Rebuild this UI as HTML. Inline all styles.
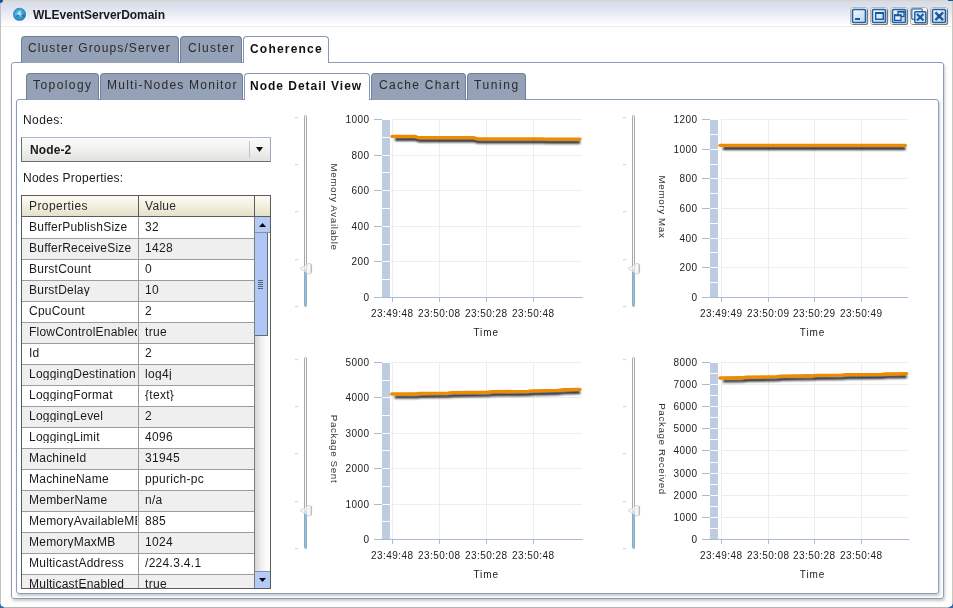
<!DOCTYPE html><html><head><meta charset="utf-8"><style>
*{margin:0;padding:0;box-sizing:border-box}
html,body{width:953px;height:608px;overflow:hidden;background:#fff;font-family:"Liberation Sans", sans-serif;color:#222}
.a{position:absolute}
.t{position:absolute;white-space:nowrap;line-height:1;will-change:transform}
.tab{position:absolute;height:27px;border:1px solid #6f7e9a;border-bottom:none;border-radius:4px 4px 0 0;background:#95a1b6}
.tab.sel{background:#fff;border-color:#8797b5}
.tl{position:absolute;white-space:nowrap;font-size:12px;letter-spacing:1px;color:#2a2a2a;line-height:12px;will-change:transform}
.tl.b{font-weight:bold;letter-spacing:0.85px;color:#111}
.cell{position:absolute;white-space:nowrap;font-size:12px;line-height:12px;color:#1a1a1a;overflow:hidden;will-change:transform}
</style></head><body>
<div class="a" style="left:0;top:0;width:953px;height:26px;background:linear-gradient(#d3d9e8 0px,#dfe3ef 8px,#f4f6fa 20px,#ffffff 25px)"></div>
<div class="a" style="left:0;top:0;width:953px;height:1px;background:#d9d6c6"></div>
<div class="a" style="left:0;top:26px;width:953px;height:1px;background:#ececea"></div>
<div class="a" style="left:0;top:0;width:1px;height:608px;background:#c2c2c2"></div>
<div class="a" style="left:952px;top:0;width:1px;height:608px;background:#c9c9c2"></div>
<div class="a" style="left:0;top:607px;width:953px;height:1px;background:#b4b4b4"></div>
<div class="a" style="left:0;top:0;width:3px;height:3px;background:#1b4f91;border-bottom-right-radius:3px"></div>
<div class="a" style="left:948px;top:0;width:5px;height:1px;background:#1d56a0"></div>
<div class="a" style="left:0;top:603px;width:4px;height:5px;background:radial-gradient(circle at 100% 0%, transparent 3.5px, #2a6cb0 4px)"></div>
<div class="a" style="left:949px;top:603px;width:4px;height:5px;background:radial-gradient(circle at 0% 0%, transparent 3.5px, #2a6cb0 4px)"></div>
<svg class="a" style="left:12px;top:7px" width="15" height="15" viewBox="0 0 15 15">
<defs><radialGradient id="gl" cx="0.45" cy="0.42" r="0.62"><stop offset="0" stop-color="#7cc8ec"/><stop offset="0.55" stop-color="#3d9fd3"/><stop offset="1" stop-color="#1d6fae"/></radialGradient></defs>
<circle cx="7.5" cy="7.3" r="6.5" fill="url(#gl)"/>
<path d="M4.3 9.6 Q4.6 7.6 6.2 7.4 Q7 8.6 6.4 10.3 Q5.2 10.6 4.3 9.6Z" fill="#145f8f" opacity="0.8"/>
<path d="M10.2 7.6 Q11.8 7.2 12.6 8.4 Q12.2 9.9 11 9.6 Q10.3 8.8 10.2 7.6Z" fill="#145f8f" opacity="0.7"/>
<path d="M5.2 7.2 L8.2 3.6 L8.8 4.2 L7.6 6.4 L9.6 6.6 L8.8 8.2 L7.2 7.6Z" fill="#e8f8ff" opacity="0.85"/>
<path d="M2 6 Q3.5 2.2 7 1.2" stroke="#1a5f95" stroke-width="0.8" fill="none" opacity="0.5"/>
</svg>
<div class="t" style="left:33px;top:9px;font-size:12px;font-weight:bold;letter-spacing:-0.04px;color:#1a1a1a">WLEventServerDomain</div>
<svg class="a" style="left:850px;top:7px" width="19" height="19" viewBox="0 0 19 19"><defs><linearGradient id="bfmin" x1="0" y1="0" x2="1" y2="1"><stop offset="0" stop-color="#f4f9ff"/><stop offset="1" stop-color="#b9d4ef"/></linearGradient></defs><rect x="0.5" y="0.5" width="17" height="17" rx="2" fill="#f4f3ee" stroke="#b9b7b0" stroke-width="1"/><path d="M17.5 2.5 V15.5 Q17.5 17.5 15.5 17.5 H2.5" fill="none" stroke="#7d786e" stroke-width="1.2"/><rect x="2.5" y="2.5" width="13" height="13" rx="1" fill="url(#bfmin)" stroke="#1f62ab" stroke-width="1.6"/><rect x="5" y="11" width="5" height="2" fill="#1c569a"/></svg>
<svg class="a" style="left:870px;top:7px" width="19" height="19" viewBox="0 0 19 19"><defs><linearGradient id="bfmax" x1="0" y1="0" x2="1" y2="1"><stop offset="0" stop-color="#f4f9ff"/><stop offset="1" stop-color="#b9d4ef"/></linearGradient></defs><rect x="0.5" y="0.5" width="17" height="17" rx="2" fill="#f4f3ee" stroke="#b9b7b0" stroke-width="1"/><path d="M17.5 2.5 V15.5 Q17.5 17.5 15.5 17.5 H2.5" fill="none" stroke="#7d786e" stroke-width="1.2"/><rect x="2.5" y="2.5" width="13" height="13" rx="1" fill="url(#bfmax)" stroke="#1f62ab" stroke-width="1.6"/><rect x="5.7" y="5.7" width="7.6" height="6.6" fill="none" stroke="#1c569a" stroke-width="1.4"/><rect x="5" y="5" width="9" height="2" fill="#1c569a"/></svg>
<svg class="a" style="left:890px;top:7px" width="19" height="19" viewBox="0 0 19 19"><defs><linearGradient id="bfres" x1="0" y1="0" x2="1" y2="1"><stop offset="0" stop-color="#f4f9ff"/><stop offset="1" stop-color="#b9d4ef"/></linearGradient></defs><rect x="0.5" y="0.5" width="17" height="17" rx="2" fill="#f4f3ee" stroke="#b9b7b0" stroke-width="1"/><path d="M17.5 2.5 V15.5 Q17.5 17.5 15.5 17.5 H2.5" fill="none" stroke="#7d786e" stroke-width="1.2"/><rect x="2.5" y="2.5" width="13" height="13" rx="1" fill="url(#bfres)" stroke="#1f62ab" stroke-width="1.6"/><rect x="8" y="4.5" width="6" height="5" fill="none" stroke="#1c569a" stroke-width="1.3"/><rect x="8" y="4" width="6.5" height="1.6" fill="#1c569a"/><rect x="4.6" y="8" width="6.4" height="5.4" fill="#e4f0fb" stroke="#1c569a" stroke-width="1.3"/><rect x="4" y="7.5" width="7.5" height="1.8" fill="#1c569a"/></svg>
<svg class="a" style="left:910px;top:7px" width="19" height="19" viewBox="0 0 19 19"><rect x="0.5" y="0.5" width="17" height="17" rx="2" fill="#f4f3ee" stroke="#b9b7b0" stroke-width="1"/><path d="M17.5 2.5 V15.5 Q17.5 17.5 15.5 17.5 H2.5" fill="none" stroke="#7d786e" stroke-width="1.2"/><rect x="1.8" y="1.8" width="10.5" height="10.5" rx="1" fill="#e6f0fb" stroke="#2a6db3" stroke-width="1.2"/><rect x="4.8" y="4.8" width="11" height="11" rx="1" fill="#d5e6f7" stroke="#1f62ab" stroke-width="1.5"/><path d="M7.8 7.8 L12.7 12.7 M12.7 7.8 L7.8 12.7" stroke="#1d5c9f" stroke-width="2.3" stroke-linecap="square"/></svg>
<svg class="a" style="left:930px;top:7px" width="19" height="19" viewBox="0 0 19 19"><defs><linearGradient id="bfclose" x1="0" y1="0" x2="1" y2="1"><stop offset="0" stop-color="#f4f9ff"/><stop offset="1" stop-color="#b9d4ef"/></linearGradient></defs><rect x="0.5" y="0.5" width="17" height="17" rx="2" fill="#f4f3ee" stroke="#b9b7b0" stroke-width="1"/><path d="M17.5 2.5 V15.5 Q17.5 17.5 15.5 17.5 H2.5" fill="none" stroke="#7d786e" stroke-width="1.2"/><rect x="2.5" y="2.5" width="13" height="13" rx="1" fill="url(#bfclose)" stroke="#1f62ab" stroke-width="1.6"/><path d="M6.2 6.2 L12.3 12.3 M12.3 6.2 L6.2 12.3" stroke="#1d5c9f" stroke-width="2.4" stroke-linecap="square"/><circle cx="9.25" cy="9.25" r="1.6" fill="#174f8c"/></svg>
<div class="a" style="left:11px;top:62px;width:933px;height:537px;border:1px solid #8c9cbb;border-radius:3px;box-shadow:1px 2px 3px rgba(0,0,0,0.22)"></div>
<div class="tab" style="left:21px;top:36px;width:158px;height:27px"></div>
<div class="tl" style="left:28.2px;top:42px;letter-spacing:1.12px">Cluster Groups/Server</div>
<div class="tab" style="left:180px;top:36px;width:62px;height:27px"></div>
<div class="tl" style="left:187.5px;top:42px;letter-spacing:1.33px">Cluster</div>
<div class="tab sel" style="left:243px;top:36px;width:86px;height:27px"></div>
<div class="tl b" style="left:249.5px;top:43px;letter-spacing:1.2px">Coherence</div>
<div class="a" style="left:16px;top:99px;width:923px;height:495px;border:1px solid #8c9cbb;border-radius:3px;box-shadow:1px 2px 3px rgba(0,0,0,0.22)"></div>
<div class="tab" style="left:26px;top:73px;width:73px;height:27px"></div>
<div class="tl" style="left:33px;top:79px;letter-spacing:1.43px">Topology</div>
<div class="tab" style="left:100px;top:73px;width:143px;height:27px"></div>
<div class="tl" style="left:106.8px;top:79px;letter-spacing:1.23px">Multi-Nodes Monitor</div>
<div class="tab sel" style="left:244px;top:73px;width:126px;height:27px"></div>
<div class="tl b" style="left:249.6px;top:80px;letter-spacing:0.98px">Node Detail View</div>
<div class="tab" style="left:371px;top:73px;width:95px;height:27px"></div>
<div class="tl" style="left:378.5px;top:79px;letter-spacing:1.3px">Cache Chart</div>
<div class="tab" style="left:467px;top:73px;width:59px;height:27px"></div>
<div class="tl" style="left:474px;top:79px;letter-spacing:1.6px">Tuning</div>
<div class="cell" style="left:23px;top:114px;letter-spacing:0.4px">Nodes:</div>
<div class="a" style="left:21px;top:137px;width:250px;height:25px;border:1px solid #6d6d6d;border-top-color:#a9b9d3;border-right-color:#9aa6bb;background:linear-gradient(#fbfbfb,#f2f2f0 45%,#e2e2df)"></div>
<div class="a" style="left:249px;top:141px;width:1px;height:17px;background:#b8c4d8"></div>
<svg class="a" style="left:256px;top:147px" width="7" height="5"><path d="M0 0 H7 L3.5 5Z" fill="#111"/></svg>
<div class="cell" style="left:29.5px;top:144px;font-weight:bold;color:#1a1a1a;letter-spacing:0.1px">Node-2</div>
<div class="cell" style="left:23px;top:172px;letter-spacing:0.26px">Nodes Properties:</div>
<div class="a" style="left:21px;top:195px;width:250px;height:394px;border:1px solid #5c5c5c;background:#fff"></div>
<div class="a" style="left:22px;top:196px;width:248px;height:20px;background:linear-gradient(#fcfbf4,#f4f2e4 40%,#e4e1ca)"></div>
<div class="a" style="left:22px;top:216px;width:248px;height:1px;background:#5c5c5c"></div>
<div class="a" style="left:138px;top:196px;width:1px;height:20px;background:#5c5c5c"></div>
<div class="a" style="left:254px;top:196px;width:1px;height:20px;background:#5c5c5c"></div>
<div class="cell" style="left:28.6px;top:200px;letter-spacing:0.43px;color:#2a2a2a">Properties</div>
<div class="cell" style="left:145px;top:200px;letter-spacing:0.3px;color:#2a2a2a">Value</div>
<div class="a" style="left:22px;top:217px;width:232px;height:371px;overflow:hidden">
<div class="a" style="left:0;top:21px;width:232px;height:1px;background:#9b9d9b"></div>
<div class="cell" style="left:6.6px;top:4px;width:108px;letter-spacing:0.23px">BufferPublishSize</div>
<div class="cell" style="left:123px;top:4px;width:108px;letter-spacing:0.3px">32</div>
<div class="a" style="left:0;top:22px;width:232px;height:20px;background:#efefef"></div>
<div class="a" style="left:0;top:42px;width:232px;height:1px;background:#9b9d9b"></div>
<div class="cell" style="left:6.6px;top:25px;width:108px;letter-spacing:0.23px">BufferReceiveSize</div>
<div class="cell" style="left:123px;top:25px;width:108px;letter-spacing:0.3px">1428</div>
<div class="a" style="left:0;top:63px;width:232px;height:1px;background:#9b9d9b"></div>
<div class="cell" style="left:6.6px;top:46px;width:108px;letter-spacing:0.23px">BurstCount</div>
<div class="cell" style="left:123px;top:46px;width:108px;letter-spacing:0.3px">0</div>
<div class="a" style="left:0;top:64px;width:232px;height:20px;background:#efefef"></div>
<div class="a" style="left:0;top:84px;width:232px;height:1px;background:#9b9d9b"></div>
<div class="cell" style="left:6.6px;top:67px;width:108px;letter-spacing:0.23px">BurstDelay</div>
<div class="cell" style="left:123px;top:67px;width:108px;letter-spacing:0.3px">10</div>
<div class="a" style="left:0;top:105px;width:232px;height:1px;background:#9b9d9b"></div>
<div class="cell" style="left:6.6px;top:88px;width:108px;letter-spacing:0.23px">CpuCount</div>
<div class="cell" style="left:123px;top:88px;width:108px;letter-spacing:0.3px">2</div>
<div class="a" style="left:0;top:106px;width:232px;height:20px;background:#efefef"></div>
<div class="a" style="left:0;top:126px;width:232px;height:1px;background:#9b9d9b"></div>
<div class="cell" style="left:6.6px;top:109px;width:108px;letter-spacing:0.23px">FlowControlEnabled</div>
<div class="cell" style="left:123px;top:109px;width:108px;letter-spacing:0.3px">true</div>
<div class="a" style="left:0;top:147px;width:232px;height:1px;background:#9b9d9b"></div>
<div class="cell" style="left:6.6px;top:130px;width:108px;letter-spacing:0.23px">Id</div>
<div class="cell" style="left:123px;top:130px;width:108px;letter-spacing:0.3px">2</div>
<div class="a" style="left:0;top:148px;width:232px;height:20px;background:#efefef"></div>
<div class="a" style="left:0;top:168px;width:232px;height:1px;background:#9b9d9b"></div>
<div class="cell" style="left:6.6px;top:151px;width:108px;letter-spacing:0.23px">LoggingDestination</div>
<div class="cell" style="left:123px;top:151px;width:108px;letter-spacing:0.3px">log4j</div>
<div class="a" style="left:0;top:189px;width:232px;height:1px;background:#9b9d9b"></div>
<div class="cell" style="left:6.6px;top:172px;width:108px;letter-spacing:0.23px">LoggingFormat</div>
<div class="cell" style="left:123px;top:172px;width:108px;letter-spacing:0.3px">{text}</div>
<div class="a" style="left:0;top:190px;width:232px;height:20px;background:#efefef"></div>
<div class="a" style="left:0;top:210px;width:232px;height:1px;background:#9b9d9b"></div>
<div class="cell" style="left:6.6px;top:193px;width:108px;letter-spacing:0.23px">LoggingLevel</div>
<div class="cell" style="left:123px;top:193px;width:108px;letter-spacing:0.3px">2</div>
<div class="a" style="left:0;top:231px;width:232px;height:1px;background:#9b9d9b"></div>
<div class="cell" style="left:6.6px;top:214px;width:108px;letter-spacing:0.23px">LoggingLimit</div>
<div class="cell" style="left:123px;top:214px;width:108px;letter-spacing:0.3px">4096</div>
<div class="a" style="left:0;top:232px;width:232px;height:20px;background:#efefef"></div>
<div class="a" style="left:0;top:252px;width:232px;height:1px;background:#9b9d9b"></div>
<div class="cell" style="left:6.6px;top:235px;width:108px;letter-spacing:0.23px">MachineId</div>
<div class="cell" style="left:123px;top:235px;width:108px;letter-spacing:0.3px">31945</div>
<div class="a" style="left:0;top:273px;width:232px;height:1px;background:#9b9d9b"></div>
<div class="cell" style="left:6.6px;top:256px;width:108px;letter-spacing:0.23px">MachineName</div>
<div class="cell" style="left:123px;top:256px;width:108px;letter-spacing:0.3px">ppurich-pc</div>
<div class="a" style="left:0;top:274px;width:232px;height:20px;background:#efefef"></div>
<div class="a" style="left:0;top:294px;width:232px;height:1px;background:#9b9d9b"></div>
<div class="cell" style="left:6.6px;top:277px;width:108px;letter-spacing:0.23px">MemberName</div>
<div class="cell" style="left:123px;top:277px;width:108px;letter-spacing:0.3px">n/a</div>
<div class="a" style="left:0;top:315px;width:232px;height:1px;background:#9b9d9b"></div>
<div class="cell" style="left:6.6px;top:298px;width:108px;letter-spacing:0.23px">MemoryAvailableMB</div>
<div class="cell" style="left:123px;top:298px;width:108px;letter-spacing:0.3px">885</div>
<div class="a" style="left:0;top:316px;width:232px;height:20px;background:#efefef"></div>
<div class="a" style="left:0;top:336px;width:232px;height:1px;background:#9b9d9b"></div>
<div class="cell" style="left:6.6px;top:319px;width:108px;letter-spacing:0.23px">MemoryMaxMB</div>
<div class="cell" style="left:123px;top:319px;width:108px;letter-spacing:0.3px">1024</div>
<div class="a" style="left:0;top:357px;width:232px;height:1px;background:#9b9d9b"></div>
<div class="cell" style="left:6.6px;top:340px;width:108px;letter-spacing:0.23px">MulticastAddress</div>
<div class="cell" style="left:123px;top:340px;width:108px;letter-spacing:0.3px">/224.3.4.1</div>
<div class="a" style="left:0;top:358px;width:232px;height:20px;background:#efefef"></div>
<div class="a" style="left:0;top:378px;width:232px;height:1px;background:#9b9d9b"></div>
<div class="cell" style="left:6.6px;top:361px;width:108px;letter-spacing:0.23px">MulticastEnabled</div>
<div class="cell" style="left:123px;top:361px;width:108px;letter-spacing:0.3px">true</div>
<div class="a" style="left:116px;top:0;width:1px;height:371px;background:#9b9d9b"></div>
</div>
<div class="a" style="left:254px;top:217px;width:1px;height:371px;background:#7c7c7c"></div>
<div class="a" style="left:255px;top:217px;width:15px;height:371px;background:linear-gradient(90deg,#d6d6d6,#ececec 35%,#f8f8f8 70%,#fff)"></div>
<div class="a" style="left:255px;top:217px;width:15px;height:15px;background:#b4cbf7"></div>
<div class="a" style="left:255px;top:232px;width:15px;height:1px;background:#8a8f9a"></div>
<svg class="a" style="left:259px;top:223px" width="7" height="4"><path d="M0 4 H7 L3.5 0Z" fill="#0a0a0a"/></svg>
<div class="a" style="left:255px;top:233px;width:13px;height:103px;background:#b0c7f6;border-right:1px solid #666a72;border-bottom:1px solid #666a72"></div>
<div class="a" style="left:258px;top:280px;width:5px;height:1px;background:#566075"></div>
<div class="a" style="left:258px;top:282px;width:5px;height:1px;background:#566075"></div>
<div class="a" style="left:258px;top:284px;width:5px;height:1px;background:#566075"></div>
<div class="a" style="left:258px;top:286px;width:5px;height:1px;background:#566075"></div>
<div class="a" style="left:258px;top:288px;width:5px;height:1px;background:#566075"></div>
<div class="a" style="left:255px;top:571px;width:15px;height:1px;background:#8a8f9a"></div>
<div class="a" style="left:255px;top:572px;width:15px;height:16px;background:#b4cbf7"></div>
<svg class="a" style="left:259px;top:578px" width="7" height="4"><path d="M0 0 H7 L3.5 4Z" fill="#0a0a0a"/></svg>
<svg class="a" style="left:0;top:0;will-change:transform" width="953" height="608" viewBox="0 0 953 608" font-family="Liberation Sans, sans-serif">
<defs><filter id="blur" filterUnits="userSpaceOnUse" x="0" y="0" width="953" height="608"><feGaussianBlur stdDeviation="0.8"/></filter></defs>
<rect x="295" y="117" width="3" height="1.2" fill="#d4d6d8"/>
<rect x="295" y="164" width="3" height="1.2" fill="#d4d6d8"/>
<rect x="295" y="211" width="3" height="1.2" fill="#d4d6d8"/>
<rect x="295" y="259" width="3" height="1.2" fill="#d4d6d8"/>
<rect x="295" y="306" width="3" height="1.2" fill="#d4d6d8"/>
<rect x="304.5" y="115.5" width="2" height="191" rx="1" fill="#fff" stroke="#a6a6a6" stroke-width="1"/>
<rect x="305.1" y="269" width="1.4" height="37.5" fill="#6dbcf3"/>
<path d="M300 268.5 L309 263.3 L311.6 264.3 V273 L309 274.2Z" fill="#f4f4f4" fill-opacity="0.7" stroke="#cdcdcd" stroke-width="0.8" stroke-linejoin="round"/>
<rect x="310.6" y="264.6" width="1.2" height="8.2" fill="#b9b9b9"/>
<text x="0" y="0" transform="translate(331,207) rotate(90)" text-anchor="middle" font-size="9.8" letter-spacing="0.62" fill="#333">Memory Available</text>
<rect x="374" y="297" width="8" height="1" fill="#a9bad6"/>
<text x="369.6" y="301" text-anchor="end" font-size="10" letter-spacing="0.45" fill="#222">0</text>
<rect x="393" y="261" width="188.70000000000005" height="1" fill="#ededf1"/>
<rect x="374" y="261" width="8" height="1" fill="#a9bad6"/>
<text x="369.6" y="265" text-anchor="end" font-size="10" letter-spacing="0.45" fill="#222">200</text>
<rect x="393" y="226" width="188.70000000000005" height="1" fill="#ededf1"/>
<rect x="374" y="226" width="8" height="1" fill="#a9bad6"/>
<text x="369.6" y="230" text-anchor="end" font-size="10" letter-spacing="0.45" fill="#222">400</text>
<rect x="393" y="190" width="188.70000000000005" height="1" fill="#ededf1"/>
<rect x="374" y="190" width="8" height="1" fill="#a9bad6"/>
<text x="369.6" y="194" text-anchor="end" font-size="10" letter-spacing="0.45" fill="#222">600</text>
<rect x="393" y="155" width="188.70000000000005" height="1" fill="#ededf1"/>
<rect x="374" y="155" width="8" height="1" fill="#a9bad6"/>
<text x="369.6" y="159" text-anchor="end" font-size="10" letter-spacing="0.45" fill="#222">800</text>
<rect x="393" y="119" width="188.70000000000005" height="1" fill="#ededf1"/>
<rect x="374" y="119" width="8" height="1" fill="#a9bad6"/>
<text x="369.6" y="123" text-anchor="end" font-size="10" letter-spacing="0.45" fill="#222">1000</text>
<rect x="392" y="119" width="1" height="178" fill="#ededf1"/>
<rect x="392" y="297" width="1" height="5" fill="#a9bad6"/>
<text x="392.3" y="317" text-anchor="middle" font-size="10" letter-spacing="0.45" fill="#222">23:49:48</text>
<rect x="439" y="119" width="1" height="178" fill="#ededf1"/>
<rect x="439" y="297" width="1" height="5" fill="#a9bad6"/>
<text x="439.3" y="317" text-anchor="middle" font-size="10" letter-spacing="0.45" fill="#222">23:50:08</text>
<rect x="486" y="119" width="1" height="178" fill="#ededf1"/>
<rect x="486" y="297" width="1" height="5" fill="#a9bad6"/>
<text x="486.3" y="317" text-anchor="middle" font-size="10" letter-spacing="0.45" fill="#222">23:50:28</text>
<rect x="533" y="119" width="1" height="178" fill="#ededf1"/>
<rect x="533" y="297" width="1" height="5" fill="#a9bad6"/>
<text x="533.3" y="317" text-anchor="middle" font-size="10" letter-spacing="0.45" fill="#222">23:50:48</text>
<rect x="374" y="297" width="208.70000000000005" height="1" fill="#a9bad6"/>
<rect x="382" y="280" width="8" height="17" fill="#bdcce0"/>
<rect x="382" y="262" width="8" height="17" fill="#bdcce0"/>
<rect x="382" y="245" width="8" height="16" fill="#bdcce0"/>
<rect x="382" y="227" width="8" height="17" fill="#bdcce0"/>
<rect x="382" y="209" width="8" height="17" fill="#bdcce0"/>
<rect x="382" y="191" width="8" height="17" fill="#bdcce0"/>
<rect x="382" y="173" width="8" height="17" fill="#bdcce0"/>
<rect x="382" y="156" width="8" height="16" fill="#bdcce0"/>
<rect x="382" y="138" width="8" height="17" fill="#bdcce0"/>
<rect x="382" y="120" width="8" height="17" fill="#bdcce0"/>
<text x="486.2" y="336" text-anchor="middle" font-size="10" letter-spacing="0.9" fill="#222">Time</text>
<polyline points="394.0,136.41 415.5,136.41 418.5,137.66 473.5,137.66 477.5,138.90 542.5,138.90 545.5,139.08 579.2,139.08" transform="translate(1,3.0)" fill="none" stroke="#1f1f1f" stroke-width="3.2" stroke-linejoin="round" filter="url(#blur)" opacity="0.95"/>
<polyline points="392.0,136.41 415.5,136.41 418.5,137.66 473.5,137.66 477.5,138.90 542.5,138.90 545.5,139.08 580.0,139.08" fill="none" stroke="#f08a00" stroke-width="3.3" stroke-linejoin="round" stroke-linecap="round"/>
<rect x="623" y="117" width="3" height="1.2" fill="#d4d6d8"/>
<rect x="623" y="164" width="3" height="1.2" fill="#d4d6d8"/>
<rect x="623" y="211" width="3" height="1.2" fill="#d4d6d8"/>
<rect x="623" y="259" width="3" height="1.2" fill="#d4d6d8"/>
<rect x="623" y="306" width="3" height="1.2" fill="#d4d6d8"/>
<rect x="632.5" y="115.5" width="2" height="191" rx="1" fill="#fff" stroke="#a6a6a6" stroke-width="1"/>
<rect x="633.1" y="269" width="1.4" height="37.5" fill="#6dbcf3"/>
<path d="M628 268.5 L637 263.3 L639.6 264.3 V273 L637 274.2Z" fill="#f4f4f4" fill-opacity="0.7" stroke="#cdcdcd" stroke-width="0.8" stroke-linejoin="round"/>
<rect x="638.6" y="264.6" width="1.2" height="8.2" fill="#b9b9b9"/>
<text x="0" y="0" transform="translate(659,207) rotate(90)" text-anchor="middle" font-size="9.8" letter-spacing="0.62" fill="#333">Memory Max</text>
<rect x="702" y="297" width="8" height="1" fill="#a9bad6"/>
<text x="697.6" y="301" text-anchor="end" font-size="10" letter-spacing="0.45" fill="#222">0</text>
<rect x="722" y="267" width="185" height="1" fill="#ededf1"/>
<rect x="702" y="267" width="8" height="1" fill="#a9bad6"/>
<text x="697.6" y="271" text-anchor="end" font-size="10" letter-spacing="0.45" fill="#222">200</text>
<rect x="722" y="238" width="185" height="1" fill="#ededf1"/>
<rect x="702" y="238" width="8" height="1" fill="#a9bad6"/>
<text x="697.6" y="242" text-anchor="end" font-size="10" letter-spacing="0.45" fill="#222">400</text>
<rect x="722" y="208" width="185" height="1" fill="#ededf1"/>
<rect x="702" y="208" width="8" height="1" fill="#a9bad6"/>
<text x="697.6" y="212" text-anchor="end" font-size="10" letter-spacing="0.45" fill="#222">600</text>
<rect x="722" y="178" width="185" height="1" fill="#ededf1"/>
<rect x="702" y="178" width="8" height="1" fill="#a9bad6"/>
<text x="697.6" y="182" text-anchor="end" font-size="10" letter-spacing="0.45" fill="#222">800</text>
<rect x="722" y="149" width="185" height="1" fill="#ededf1"/>
<rect x="702" y="149" width="8" height="1" fill="#a9bad6"/>
<text x="697.6" y="153" text-anchor="end" font-size="10" letter-spacing="0.45" fill="#222">1000</text>
<rect x="722" y="119" width="185" height="1" fill="#ededf1"/>
<rect x="702" y="119" width="8" height="1" fill="#a9bad6"/>
<text x="697.6" y="123" text-anchor="end" font-size="10" letter-spacing="0.45" fill="#222">1200</text>
<rect x="721" y="119" width="1" height="178" fill="#ededf1"/>
<rect x="721" y="297" width="1" height="5" fill="#a9bad6"/>
<text x="721.3" y="317" text-anchor="middle" font-size="10" letter-spacing="0.45" fill="#222">23:49:49</text>
<rect x="768" y="119" width="1" height="178" fill="#ededf1"/>
<rect x="768" y="297" width="1" height="5" fill="#a9bad6"/>
<text x="768.3" y="317" text-anchor="middle" font-size="10" letter-spacing="0.45" fill="#222">23:50:09</text>
<rect x="814" y="119" width="1" height="178" fill="#ededf1"/>
<rect x="814" y="297" width="1" height="5" fill="#a9bad6"/>
<text x="814.3" y="317" text-anchor="middle" font-size="10" letter-spacing="0.45" fill="#222">23:50:29</text>
<rect x="861" y="119" width="1" height="178" fill="#ededf1"/>
<rect x="861" y="297" width="1" height="5" fill="#a9bad6"/>
<text x="861.3" y="317" text-anchor="middle" font-size="10" letter-spacing="0.45" fill="#222">23:50:49</text>
<rect x="702" y="297" width="206" height="1" fill="#a9bad6"/>
<rect x="710" y="283" width="8" height="14" fill="#bdcce0"/>
<rect x="710" y="268" width="8" height="14" fill="#bdcce0"/>
<rect x="710" y="253" width="8" height="14" fill="#bdcce0"/>
<rect x="710" y="239" width="8" height="13" fill="#bdcce0"/>
<rect x="710" y="224" width="8" height="14" fill="#bdcce0"/>
<rect x="710" y="209" width="8" height="14" fill="#bdcce0"/>
<rect x="710" y="194" width="8" height="14" fill="#bdcce0"/>
<rect x="710" y="179" width="8" height="14" fill="#bdcce0"/>
<rect x="710" y="165" width="8" height="13" fill="#bdcce0"/>
<rect x="710" y="150" width="8" height="14" fill="#bdcce0"/>
<rect x="710" y="135" width="8" height="14" fill="#bdcce0"/>
<rect x="710" y="120" width="8" height="14" fill="#bdcce0"/>
<text x="812.6" y="336" text-anchor="middle" font-size="10" letter-spacing="0.9" fill="#222">Time</text>
<polyline points="722.0,145.31 904.5,145.31" transform="translate(1,3.0)" fill="none" stroke="#1f1f1f" stroke-width="3.2" stroke-linejoin="round" filter="url(#blur)" opacity="0.95"/>
<polyline points="720.0,145.31 905.3,145.31" fill="none" stroke="#f08a00" stroke-width="3.3" stroke-linejoin="round" stroke-linecap="round"/>
<rect x="295" y="359" width="3" height="1.2" fill="#d4d6d8"/>
<rect x="295" y="406" width="3" height="1.2" fill="#d4d6d8"/>
<rect x="295" y="453" width="3" height="1.2" fill="#d4d6d8"/>
<rect x="295" y="501" width="3" height="1.2" fill="#d4d6d8"/>
<rect x="295" y="548" width="3" height="1.2" fill="#d4d6d8"/>
<rect x="304.5" y="357.5" width="2" height="191" rx="1" fill="#fff" stroke="#a6a6a6" stroke-width="1"/>
<rect x="305.1" y="511" width="1.4" height="37.5" fill="#6dbcf3"/>
<path d="M300 510.5 L309 505.3 L311.6 506.3 V515 L309 516.2Z" fill="#f4f4f4" fill-opacity="0.7" stroke="#cdcdcd" stroke-width="0.8" stroke-linejoin="round"/>
<rect x="310.6" y="506.6" width="1.2" height="8.2" fill="#b9b9b9"/>
<text x="0" y="0" transform="translate(331,449) rotate(90)" text-anchor="middle" font-size="9.8" letter-spacing="0.62" fill="#333">Package Sent</text>
<rect x="374" y="539" width="8" height="1" fill="#a9bad6"/>
<text x="369.6" y="543" text-anchor="end" font-size="10" letter-spacing="0.45" fill="#222">0</text>
<rect x="393" y="504" width="188.70000000000005" height="1" fill="#ededf1"/>
<rect x="374" y="504" width="8" height="1" fill="#a9bad6"/>
<text x="369.6" y="508" text-anchor="end" font-size="10" letter-spacing="0.45" fill="#222">1000</text>
<rect x="393" y="468" width="188.70000000000005" height="1" fill="#ededf1"/>
<rect x="374" y="468" width="8" height="1" fill="#a9bad6"/>
<text x="369.6" y="472" text-anchor="end" font-size="10" letter-spacing="0.45" fill="#222">2000</text>
<rect x="393" y="433" width="188.70000000000005" height="1" fill="#ededf1"/>
<rect x="374" y="433" width="8" height="1" fill="#a9bad6"/>
<text x="369.6" y="437" text-anchor="end" font-size="10" letter-spacing="0.45" fill="#222">3000</text>
<rect x="393" y="397" width="188.70000000000005" height="1" fill="#ededf1"/>
<rect x="374" y="397" width="8" height="1" fill="#a9bad6"/>
<text x="369.6" y="401" text-anchor="end" font-size="10" letter-spacing="0.45" fill="#222">4000</text>
<rect x="393" y="362" width="188.70000000000005" height="1" fill="#ededf1"/>
<rect x="374" y="362" width="8" height="1" fill="#a9bad6"/>
<text x="369.6" y="366" text-anchor="end" font-size="10" letter-spacing="0.45" fill="#222">5000</text>
<rect x="392" y="362" width="1" height="177" fill="#ededf1"/>
<rect x="392" y="539" width="1" height="5" fill="#a9bad6"/>
<text x="392.3" y="559" text-anchor="middle" font-size="10" letter-spacing="0.45" fill="#222">23:49:48</text>
<rect x="439" y="362" width="1" height="177" fill="#ededf1"/>
<rect x="439" y="539" width="1" height="5" fill="#a9bad6"/>
<text x="439.3" y="559" text-anchor="middle" font-size="10" letter-spacing="0.45" fill="#222">23:50:08</text>
<rect x="486" y="362" width="1" height="177" fill="#ededf1"/>
<rect x="486" y="539" width="1" height="5" fill="#a9bad6"/>
<text x="486.3" y="559" text-anchor="middle" font-size="10" letter-spacing="0.45" fill="#222">23:50:28</text>
<rect x="533" y="362" width="1" height="177" fill="#ededf1"/>
<rect x="533" y="539" width="1" height="5" fill="#a9bad6"/>
<text x="533.3" y="559" text-anchor="middle" font-size="10" letter-spacing="0.45" fill="#222">23:50:48</text>
<rect x="374" y="539" width="208.70000000000005" height="1" fill="#a9bad6"/>
<rect x="382" y="522" width="8" height="17" fill="#bdcce0"/>
<rect x="382" y="505" width="8" height="16" fill="#bdcce0"/>
<rect x="382" y="487" width="8" height="17" fill="#bdcce0"/>
<rect x="382" y="469" width="8" height="17" fill="#bdcce0"/>
<rect x="382" y="451" width="8" height="17" fill="#bdcce0"/>
<rect x="382" y="434" width="8" height="16" fill="#bdcce0"/>
<rect x="382" y="416" width="8" height="17" fill="#bdcce0"/>
<rect x="382" y="398" width="8" height="17" fill="#bdcce0"/>
<rect x="382" y="381" width="8" height="16" fill="#bdcce0"/>
<rect x="382" y="363" width="8" height="17" fill="#bdcce0"/>
<text x="486.2" y="578" text-anchor="middle" font-size="10" letter-spacing="0.9" fill="#222">Time</text>
<polyline points="393.7,394.01 414.5,394.01 420.5,393.48 447.5,393.12 452.5,392.59 487.5,392.24 492.5,391.71 527.5,391.35 532.5,390.82 557.5,390.47 562.5,389.76 579.2,389.40" transform="translate(1,3.0)" fill="none" stroke="#1f1f1f" stroke-width="3.2" stroke-linejoin="round" filter="url(#blur)" opacity="0.95"/>
<polyline points="391.7,394.01 414.5,394.01 420.5,393.48 447.5,393.12 452.5,392.59 487.5,392.24 492.5,391.71 527.5,391.35 532.5,390.82 557.5,390.47 562.5,389.76 580.0,389.40" fill="none" stroke="#f08a00" stroke-width="3.3" stroke-linejoin="round" stroke-linecap="round"/>
<rect x="623" y="359" width="3" height="1.2" fill="#d4d6d8"/>
<rect x="623" y="406" width="3" height="1.2" fill="#d4d6d8"/>
<rect x="623" y="453" width="3" height="1.2" fill="#d4d6d8"/>
<rect x="623" y="501" width="3" height="1.2" fill="#d4d6d8"/>
<rect x="623" y="548" width="3" height="1.2" fill="#d4d6d8"/>
<rect x="632.5" y="357.5" width="2" height="191" rx="1" fill="#fff" stroke="#a6a6a6" stroke-width="1"/>
<rect x="633.1" y="511" width="1.4" height="37.5" fill="#6dbcf3"/>
<path d="M628 510.5 L637 505.3 L639.6 506.3 V515 L637 516.2Z" fill="#f4f4f4" fill-opacity="0.7" stroke="#cdcdcd" stroke-width="0.8" stroke-linejoin="round"/>
<rect x="638.6" y="506.6" width="1.2" height="8.2" fill="#b9b9b9"/>
<text x="0" y="0" transform="translate(659,449) rotate(90)" text-anchor="middle" font-size="9.8" letter-spacing="0.62" fill="#333">Package Received</text>
<rect x="702" y="539" width="8" height="1" fill="#a9bad6"/>
<text x="697.6" y="543" text-anchor="end" font-size="10" letter-spacing="0.45" fill="#222">0</text>
<rect x="722" y="517" width="186.5" height="1" fill="#ededf1"/>
<rect x="702" y="517" width="8" height="1" fill="#a9bad6"/>
<text x="697.6" y="521" text-anchor="end" font-size="10" letter-spacing="0.45" fill="#222">1000</text>
<rect x="722" y="495" width="186.5" height="1" fill="#ededf1"/>
<rect x="702" y="495" width="8" height="1" fill="#a9bad6"/>
<text x="697.6" y="499" text-anchor="end" font-size="10" letter-spacing="0.45" fill="#222">2000</text>
<rect x="722" y="473" width="186.5" height="1" fill="#ededf1"/>
<rect x="702" y="473" width="8" height="1" fill="#a9bad6"/>
<text x="697.6" y="477" text-anchor="end" font-size="10" letter-spacing="0.45" fill="#222">3000</text>
<rect x="722" y="450" width="186.5" height="1" fill="#ededf1"/>
<rect x="702" y="450" width="8" height="1" fill="#a9bad6"/>
<text x="697.6" y="454" text-anchor="end" font-size="10" letter-spacing="0.45" fill="#222">4000</text>
<rect x="722" y="428" width="186.5" height="1" fill="#ededf1"/>
<rect x="702" y="428" width="8" height="1" fill="#a9bad6"/>
<text x="697.6" y="432" text-anchor="end" font-size="10" letter-spacing="0.45" fill="#222">5000</text>
<rect x="722" y="406" width="186.5" height="1" fill="#ededf1"/>
<rect x="702" y="406" width="8" height="1" fill="#a9bad6"/>
<text x="697.6" y="410" text-anchor="end" font-size="10" letter-spacing="0.45" fill="#222">6000</text>
<rect x="722" y="384" width="186.5" height="1" fill="#ededf1"/>
<rect x="702" y="384" width="8" height="1" fill="#a9bad6"/>
<text x="697.6" y="388" text-anchor="end" font-size="10" letter-spacing="0.45" fill="#222">7000</text>
<rect x="722" y="362" width="186.5" height="1" fill="#ededf1"/>
<rect x="702" y="362" width="8" height="1" fill="#a9bad6"/>
<text x="697.6" y="366" text-anchor="end" font-size="10" letter-spacing="0.45" fill="#222">8000</text>
<rect x="721" y="362" width="1" height="177" fill="#ededf1"/>
<rect x="721" y="539" width="1" height="5" fill="#a9bad6"/>
<text x="721.3" y="559" text-anchor="middle" font-size="10" letter-spacing="0.45" fill="#222">23:49:48</text>
<rect x="768" y="362" width="1" height="177" fill="#ededf1"/>
<rect x="768" y="539" width="1" height="5" fill="#a9bad6"/>
<text x="768.3" y="559" text-anchor="middle" font-size="10" letter-spacing="0.45" fill="#222">23:50:08</text>
<rect x="814" y="362" width="1" height="177" fill="#ededf1"/>
<rect x="814" y="539" width="1" height="5" fill="#a9bad6"/>
<text x="814.3" y="559" text-anchor="middle" font-size="10" letter-spacing="0.45" fill="#222">23:50:28</text>
<rect x="861" y="362" width="1" height="177" fill="#ededf1"/>
<rect x="861" y="539" width="1" height="5" fill="#a9bad6"/>
<text x="861.3" y="559" text-anchor="middle" font-size="10" letter-spacing="0.45" fill="#222">23:50:48</text>
<rect x="702" y="539" width="207.5" height="1" fill="#a9bad6"/>
<rect x="710" y="529" width="8" height="10" fill="#bdcce0"/>
<rect x="710" y="518" width="8" height="10" fill="#bdcce0"/>
<rect x="710" y="507" width="8" height="10" fill="#bdcce0"/>
<rect x="710" y="496" width="8" height="10" fill="#bdcce0"/>
<rect x="710" y="485" width="8" height="10" fill="#bdcce0"/>
<rect x="710" y="474" width="8" height="10" fill="#bdcce0"/>
<rect x="710" y="463" width="8" height="10" fill="#bdcce0"/>
<rect x="710" y="451" width="8" height="11" fill="#bdcce0"/>
<rect x="710" y="440" width="8" height="10" fill="#bdcce0"/>
<rect x="710" y="429" width="8" height="10" fill="#bdcce0"/>
<rect x="710" y="418" width="8" height="10" fill="#bdcce0"/>
<rect x="710" y="407" width="8" height="10" fill="#bdcce0"/>
<rect x="710" y="396" width="8" height="10" fill="#bdcce0"/>
<rect x="710" y="385" width="8" height="10" fill="#bdcce0"/>
<rect x="710" y="374" width="8" height="10" fill="#bdcce0"/>
<rect x="710" y="363" width="8" height="10" fill="#bdcce0"/>
<text x="812.6" y="578" text-anchor="middle" font-size="10" letter-spacing="0.9" fill="#222">Time</text>
<polyline points="722.0,377.99 741.5,377.77 746.5,377.10 776.5,376.66 781.5,376.22 811.5,375.77 816.5,375.33 841.5,375.11 846.5,374.67 881.5,374.45 886.5,374.00 905.8,373.56" transform="translate(1,3.0)" fill="none" stroke="#1f1f1f" stroke-width="3.2" stroke-linejoin="round" filter="url(#blur)" opacity="0.95"/>
<polyline points="720.0,377.99 741.5,377.77 746.5,377.10 776.5,376.66 781.5,376.22 811.5,375.77 816.5,375.33 841.5,375.11 846.5,374.67 881.5,374.45 886.5,374.00 906.6,373.56" fill="none" stroke="#f08a00" stroke-width="3.3" stroke-linejoin="round" stroke-linecap="round"/>
</svg>
</body></html>
